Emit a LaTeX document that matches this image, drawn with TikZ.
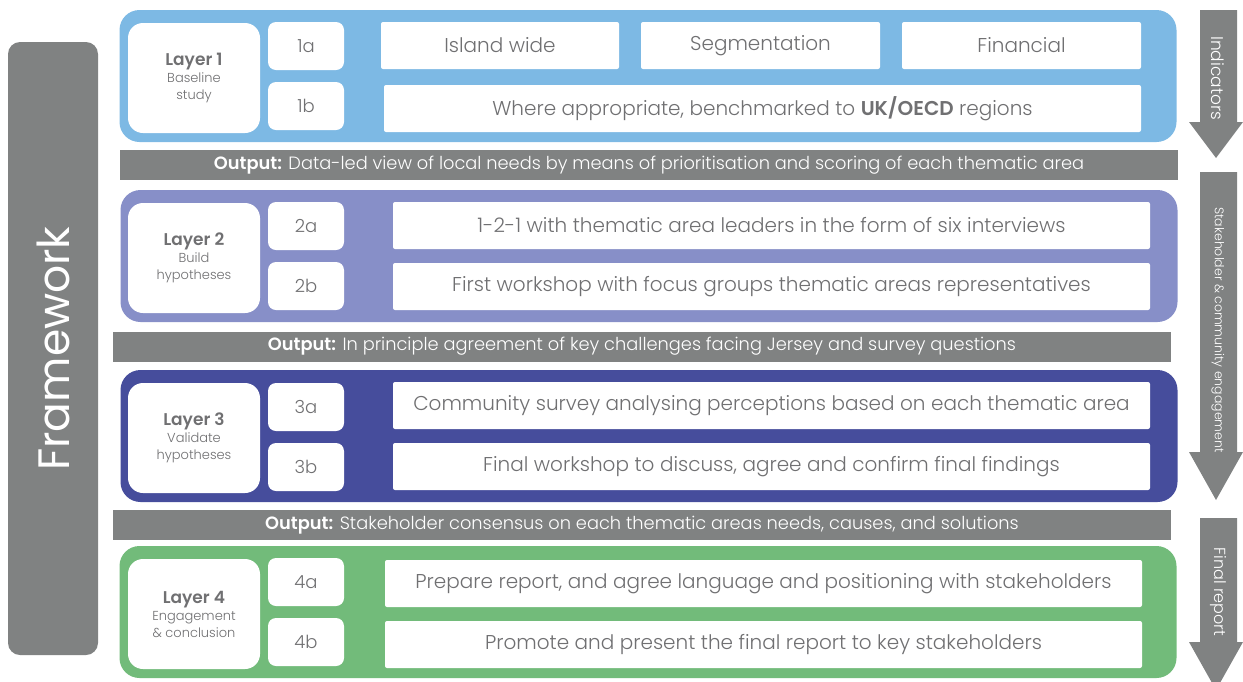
\documentclass[tikz,border=0pt]{standalone}
\usepackage{fontspec}
\setmainfont{Poppins}[UprightFont=* Light, BoldFont=* SemiBold]
\newfontfamily\fwfont{Poppins}
\definecolor{layA}{RGB}{125,185,228}
\definecolor{layB}{RGB}{135,143,200}
\definecolor{layC}{RGB}{70,77,156}
\definecolor{layD}{RGB}{114,187,122}
\definecolor{bar}{RGB}{128,130,130}
\definecolor{txt}{RGB}{112,112,114}
\begin{document}
\begin{tikzpicture}[x=1pt,y=-1pt,
  frame/.style={rounded corners=20pt, minimum width=1057pt, minimum height=132pt, inner sep=0pt},
  tag/.style={fill=white, rounded corners=15pt, minimum width=132pt, minimum height=110pt, inner sep=0pt, align=center, text=txt, font=\fontsize{13}{17}\selectfont},
  num/.style={fill=white, rounded corners=8pt, minimum width=76pt, minimum height=48pt, inner sep=0pt, text=txt, font=\fontsize{18}{20}\selectfont},
  cell/.style={fill=white, rounded corners=2pt, minimum height=47pt, inner sep=0pt, text=txt, font=\fontsize{20}{22}\selectfont},
  outp/.style={fill=bar, minimum width=1058pt, minimum height=30pt, inner sep=0pt, text=white, font=\fontsize{17.8}{19}\selectfont},
  side/.style={fill=bar},
  sidetxt/.style={text=white, rotate=-90}]
\useasboundingbox (0,0) rectangle (1243,681);
% framework bar
\node[fill=bar, rounded corners=12pt, minimum width=90pt, minimum height=613pt, inner sep=0pt] (fw) at (53,348.5) {};
\node[text=white, rotate=90, font=\fwfont\fontsize{44}{46}\selectfont] (fwt) at (fw.center) {Framework};
% layer 1
\node[frame, fill=layA] (l1) at (648,76) {};
\node[tag] (t1) at (194,78) {{\fontsize{17}{19}\selectfont\bfseries Layer 1}\\Baseline\\study};
\node[num] (n1a) at (306,46) {1a};
\node[num] (n1b) at (306,106) {1b};
\node[cell, minimum width=238pt] (c1a) at (500,45.5) {Island wide};
\node[cell, minimum width=239pt] (c1b) at (760.5,45.5) {Segmentation};
\node[cell, minimum width=239pt] (c1c) at (1021.5,45.5) {Financial};
\node[cell, minimum width=757pt] (c1d) at (762.5,108.5) {Where appropriate, benchmarked to \textbf{UK/OECD} regions};
\node[outp] (o1) at (649,165) {\textbf{Output:} Data-led view of local needs by means of prioritisation and scoring of each thematic area};
% layer 2
\node[frame, fill=layB] (l2) at (649,256) {};
\node[tag] (t2) at (194,258) {{\fontsize{17}{19}\selectfont\bfseries Layer 2}\\Build\\hypotheses};
\node[num] (n2a) at (306,226) {2a};
\node[num] (n2b) at (306,286) {2b};
\node[cell, minimum width=757pt] (c2a) at (771.5,225.5) {1-2-1 with thematic area leaders in the form of six interviews};
\node[cell, minimum width=757pt] (c2b) at (771.5,286.5) {First workshop with focus groups thematic areas representatives};
\node[outp] (o2) at (642,346.5) {\textbf{Output:} In principle agreement of key challenges facing Jersey and survey questions};
% layer 3
\node[frame, fill=layC] (l3) at (649,436) {};
\node[tag] (t3) at (194,438) {{\fontsize{17}{19}\selectfont\bfseries Layer 3}\\Validate\\hypotheses};
\node[num] (n3a) at (306,407) {3a};
\node[num] (n3b) at (306,467) {3b};
\node[cell, minimum width=757pt] (c3a) at (771.5,405.5) {Community survey analysing perceptions based on each thematic area};
\node[cell, minimum width=757pt] (c3b) at (771.5,466.5) {Final workshop to discuss, agree and confirm final findings};
\node[outp] (o3) at (642,525) {\textbf{Output:} Stakeholder consensus on each thematic areas needs, causes, and solutions};
% layer 4
\node[frame, fill=layD] (l4) at (648,612) {};
\node[tag] (t4) at (194,614) {{\fontsize{17}{19}\selectfont\bfseries Layer 4}\\Engagement\\\& conclusion};
\node[num] (n4a) at (306,582) {4a};
\node[num] (n4b) at (306,642) {4b};
\node[cell, minimum width=757pt] (c4a) at (763.5,583.5) {Prepare report, and agree language and positioning with stakeholders};
\node[cell, minimum width=757pt] (c4b) at (763.5,644.5) {Promote and present the final report to key stakeholders};
% side arrows
\fill[side] (1200,10) -- (1237,10) -- (1237,122) -- (1243,122) -- (1216,158) -- (1189,122) -- (1200,122) -- cycle;
\node[sidetxt, font=\fontsize{17}{19}\selectfont] (s1) at (1218,78) {Indicators};
\fill[side] (1200,172) -- (1237,172) -- (1237,452) -- (1243,452) -- (1216,500) -- (1189,452) -- (1200,452) -- cycle;
\node[sidetxt, font=\fontsize{12.5}{14}\selectfont] (s2) at (1218,330) {Stakeholder \& community engagement};
\fill[side] (1200,518) -- (1237,518) -- (1237,642) -- (1243,642) -- (1216,690) -- (1189,642) -- (1200,642) -- cycle;
\node[sidetxt, font=\fontsize{16}{18}\selectfont] (s3) at (1218,592) {Final report};
\end{tikzpicture}
\end{document}
